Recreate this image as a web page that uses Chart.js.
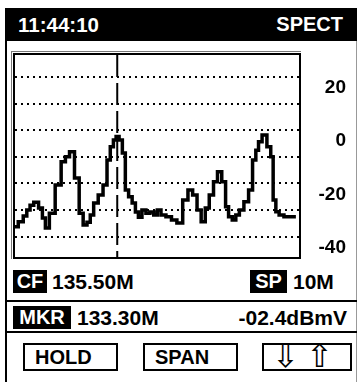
<!DOCTYPE html>
<html>
<head>
<meta charset="utf-8">
<script src="https://cdn.jsdelivr.net/npm/chart.js@4.4.0/dist/chart.umd.min.js"></script>
<style>
  body {
    margin: 0;
    width: 359px;
    height: 382px;
    overflow: hidden;
    position: relative;
    background: #fff;
    color: #000;
    font-family: "Liberation Sans", Arial, sans-serif;
    font-weight: bold;
  }
  .abs { position: absolute; }
  #header {
    left: 5px; top: 8px; width: 352px; height: 33px;
    background: #000; color: #fff;
    font-size: 20px; line-height: 33px;
  }
  #clock { left: 13px; top: 0; font-size: 20.5px; }
  #mode { right: 14px; top: 0; }
  .tag {
    background: #000; color: #fff;
    height: 23px; line-height: 23px;
    font-size: 20px; text-align: center;
  }
  .val { font-size: 21px; line-height: 23px; height: 23px; }
  .rule { left: 7px; width: 350px; height: 2px; background: #000; }
  .btn {
    top: 343px; height: 28px; box-sizing: border-box;
    border: 2px solid #000;
    font-size: 20px; line-height: 24px;
  }
  .arrow {
    top: -5px;
    font-family: "DejaVu Sans", sans-serif; font-weight: normal;
    font-size: 32px; line-height: 32px;
  }
  #frame {
    left: 13px; top: 53px; width: 288px; height: 206px;
    box-sizing: border-box; border: 2px solid #000;
  }
  #outline {
    left: 11px; top: 51px; width: 290px; height: 208px;
    box-sizing: border-box; border-left: 1px solid #777; border-top: 1px solid #777;
  }
  #plot { left: 15px; top: 55px; }
</style>
</head>
<body>

<div id="header" class="abs">
  <span id="clock" class="abs">11:44:10</span>
  <span id="mode" class="abs">SPECT</span>
</div>
<div class="abs" style="left:5px;top:41px;width:2px;height:341px;background:#000"></div>
<div class="abs" style="left:356px;top:41px;width:1px;height:341px;background:#999"></div>

<div id="outline" class="abs"></div>
<div id="frame" class="abs"></div>
<canvas id="plot" class="abs" width="331" height="202" style="width:331px;height:202px"></canvas>

<div class="abs tag" style="left:13px;top:270px;width:34px">CF</div>
<div class="abs val" style="left:52px;top:270px">135.50M</div>
<div class="abs tag" style="left:250px;top:270px;width:37px">SP</div>
<div class="abs val" style="left:293px;top:270px">10M</div>
<div class="abs rule" style="top:300px"></div>

<div class="abs tag" style="left:13px;top:306px;width:58px">MKR</div>
<div class="abs val" style="left:77px;top:306px">133.30M</div>
<div class="abs val" style="right:12px;top:306px">-02.4dBmV</div>
<div class="abs rule" style="top:331px"></div>

<div class="abs btn" style="left:23px;width:95px;padding-left:10px">HOLD</div>
<div class="abs btn" style="left:143px;width:95px;padding-left:10px">SPAN</div>
<div class="abs btn" style="left:262px;width:90px">
  <span class="abs arrow" style="left:8px">&#8681;</span>
  <span class="abs arrow" style="left:42px">&#8679;</span>
</div>

<script>
// sweep settings (MHz / dBmV)
var spanStart = 129.7;
var spanEnd = 139.7;
var markerFreq = 133.30;
var markerLevel = -2.4;

// trace: frequency and level of each step
var traceFreq = [
  129.70, 129.93, 130.05, 130.18, 130.28, 130.44, 130.62, 130.71, 130.83, 130.99,
  131.24, 131.41, 131.54, 131.70, 131.89, 132.03, 132.17, 132.30, 132.40, 132.54,
  132.72, 132.88, 133.00, 133.11, 133.22, 133.30, 133.43, 133.53, 133.64, 133.76,
  133.89, 133.99, 134.10, 134.24, 134.38, 134.52, 134.65, 134.77, 134.91, 135.12,
  135.30, 135.50, 135.71, 135.87, 136.04, 136.18, 136.33, 136.47, 136.61, 136.77,
  136.89, 137.07, 137.16, 137.28, 137.42, 137.53, 137.67, 137.85, 138.00, 138.13,
  138.23, 138.32, 138.48, 138.66, 138.75, 138.83, 138.94, 139.06, 139.28, 139.59
];
var traceLevel = [
  -36.3, -34.4, -32.3, -30.0, -28.2, -27.1, -29.3, -33.0, -36.8, -31.2,
  -20.6, -11.9, -10.0, -8.1, -18.0, -31.2, -35.7, -34.6, -31.9, -27.4,
  -24.4, -20.6, -11.2, -6.2, -3.7, -2.4, -3.7, -8.6, -22.5, -25.0,
  -27.4, -30.8, -32.7, -30.0, -31.2, -30.8, -31.9, -30.0, -31.9, -32.6,
  -33.8, -34.9, -26.3, -22.5, -24.4, -30.0, -34.4, -29.3, -24.4, -19.4,
  -15.6, -19.4, -28.8, -32.6, -33.8, -31.9, -30.0, -26.9, -22.5, -11.2,
  -7.5, -4.3, -1.8, -6.2, -10.0, -26.3, -30.7, -31.9, -32.6, -32.6
];

// level axis
var levelMin = -47.7;
var levelMax = 28.3;
var gridLevels = [20, 10, 0, -10, -20, -30, -40];
var tickLevels = [20, 0, -20, -40];

var tracePoints = traceFreq.map(function (f, i) {
  return { x: f, y: traceLevel[i] };
});

var ctx = document.getElementById('plot').getContext('2d');
var spectrum = new Chart(ctx, {
  type: 'line',
  data: {
    datasets: [
      {
        label: 'trace',
        data: tracePoints,
        borderColor: '#000',
        borderWidth: 3.5,
        stepped: 'middle',
        pointRadius: 0,
        order: 0
      },
      {
        label: 'marker',
        data: [{ x: markerFreq, y: levelMax }, { x: markerFreq, y: levelMin }],
        borderColor: '#000',
        borderWidth: 2,
        borderDash: [22, 6],
        pointRadius: 0,
        order: 1
      }
    ]
  },
  options: {
    responsive: false,
    devicePixelRatio: 1,
    animation: false,
    layout: { padding: 0 },
    plugins: {
      legend: { display: false },
      tooltip: { enabled: false }
    },
    scales: {
      x: {
        type: 'linear',
        min: spanStart,
        max: spanEnd,
        display: false
      },
      y: {
        type: 'linear',
        position: 'right',
        min: levelMin,
        max: levelMax,
        afterBuildTicks: function (scale) {
          scale.ticks = gridLevels.map(function (v) { return { value: v }; });
        },
        afterFit: function (scale) {
          // fixed label column, no extra room above/below the plot
          scale.width = 47;
          scale.paddingTop = 0;
          scale.paddingBottom = 0;
        },
        grid: {
          color: '#000',
          lineWidth: 2,
          drawTicks: false
        },
        border: {
          display: false,
          dash: [2, 4]
        },
        ticks: {
          color: '#000',
          padding: 0,
          crossAlign: 'far',
          labelOffset: 11,
          font: { family: '"Liberation Sans", Arial, sans-serif', size: 19, weight: 'bold' },
          callback: function (value) {
            return tickLevels.indexOf(value) >= 0 ? String(value) : '';
          }
        }
      }
    }
  }
});
</script>
</body>
</html>
